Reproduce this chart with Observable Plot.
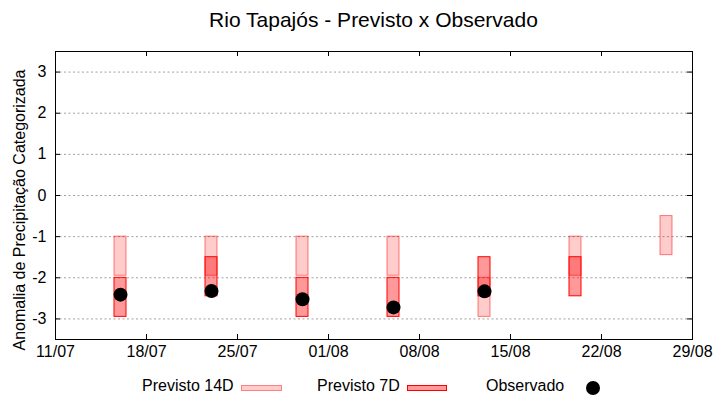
<!DOCTYPE html>
<html><head><meta charset="utf-8">
<script src="https://cdn.jsdelivr.net/npm/d3@7"></script>
<script src="https://cdn.jsdelivr.net/npm/@observablehq/plot@0.6"></script>
<style>
body{margin:0;background:#fff;font-family:"Liberation Sans",Arial,sans-serif;color:#000}
#wrap{position:relative;width:720px;height:400px;overflow:hidden}
#title{position:absolute;left:55px;width:637px;top:7px;text-align:center;font-size:21px;line-height:26px}
#chart{position:absolute;left:0;top:40px}
#ylabel{position:absolute;left:20px;top:210px;transform:translate(-50%,-50%) rotate(-90deg);white-space:nowrap;font-size:16px;line-height:18px}
.lt{position:absolute;font-size:16px;line-height:18px;top:377px;white-space:nowrap}
.sw{position:absolute;box-sizing:border-box;height:6px;top:385px}
.ld{position:absolute;width:14px;height:14px;border-radius:50%;background:#000;left:586px;top:381px}
</style></head><body>
<div id="wrap">
<div id="title">Rio Tapajós - Previsto x Observado</div>
<div id="chart"></div>
<div id="ylabel">Anomalia de Precipitação Categorizada</div>
<div class="lt" style="left:142px">Previsto 14D</div>
<div class="sw" style="left:241px;width:41px;border:1px solid #ff8080;background:#ffcccc"></div>
<div class="lt" style="left:317px">Previsto 7D</div>
<div class="sw" style="left:407px;width:40px;border:1px solid #ff0000;background:#ff9999"></div>
<div class="lt" style="left:486px">Observado</div>
<div class="ld"></div>
</div>
<script>
// Data
const dates = ["2023-07-16","2023-07-23","2023-07-30","2023-08-06","2023-08-13","2023-08-20","2023-08-27"];
const prev14Top    = [-1, -1, -1, -1, -2, -1, -0.5];
const prev14Bottom = [-1.95, -1.95, -1.95, -1.95, -2.95, -1.95, -1.45];
const prev7Top     = [-2, -1.5, -2, -2, -1.5, -1.5, null];
const prev7Bottom  = [-2.95, -2.45, -2.95, -2.95, -2.45, -2.45, null];
const observed     = [-2.41, -2.32, -2.52, -2.72, -2.33, null, null];
const xTickLabels  = ["11/07","18/07","25/07","01/08","08/08","15/08","22/08","29/08"];
const yTicks       = [-3, -2, -1, 0, 1, 2, 3];
const yDomain      = [-3.5, 3.5];

const parse = d3.utcParse("%Y-%m-%d");
const tickParse = d3.utcParse("%d/%m/%Y");
const xTicks = xTickLabels.map(s => tickParse(s + "/2023"));
const rows = dates.map((d, i) => ({
  date: parse(d),
  t14: prev14Top[i], b14: prev14Bottom[i],
  t7: prev7Top[i], b7: prev7Bottom[i],
  obs: observed[i]
}));
const r14 = rows.filter(d => d.t14 != null);
const r7 = rows.filter(d => d.t7 != null);
const ro = rows.filter(d => d.obs != null);
const left = d => d3.utcHour.offset(d.date, -12);
const right = d => d3.utcHour.offset(d.date, 12);

const W = 720, H = 330, mL = 55, mR = 28, mT = 11, mB = 31;
const innerH = H - mT - mB, innerW = W - mL - mR, tick = 5;

const chart = Plot.plot({
  width: W, height: H,
  marginLeft: mL, marginRight: mR, marginTop: mT, marginBottom: mB,
  style: {fontFamily: "Liberation Sans, Arial, sans-serif", fontSize: "16px", color: "#000", background: "#fff", overflow: "visible"},
  x: {type: "utc", domain: [xTicks[0], xTicks[xTicks.length - 1]]},
  y: {domain: yDomain},
  marks: [
    Plot.ruleY(yTicks, {stroke: "#a0a0a0", strokeDasharray: "2,2.5", strokeWidth: 1}),
    Plot.rect(r14, {x1: left, x2: right, y1: "b14", y2: "t14", insetLeft: 0.5, insetRight: 0.5,
      fill: "#ff0000", fillOpacity: 0.2, stroke: "#ff0000", strokeOpacity: 0.5, strokeWidth: 1}),
    Plot.rect(r7, {x1: left, x2: right, y1: "b7", y2: "t7", insetLeft: 0.5, insetRight: 0.5,
      fill: "#ff0000", fillOpacity: 0.4, stroke: "#ff0000", strokeWidth: 1}),
    Plot.dot(ro, {x: "date", y: "obs", r: 7, fill: "#000", stroke: null}),
    Plot.tickX(xTicks, {x: d => d, insetTop: innerH - tick, stroke: "#000"}),
    Plot.tickX(xTicks, {x: d => d, insetBottom: innerH - tick, stroke: "#000"}),
    Plot.tickY(yTicks, {y: d => d, insetLeft: innerW - tick, stroke: "#000"}),
    Plot.tickY(yTicks, {y: d => d, insetRight: innerW - tick, stroke: "#000"}),
    Plot.frame({stroke: "#000", strokeWidth: 1}),
    Plot.axisX({ticks: xTicks, tickFormat: d3.utcFormat("%d/%m"), tickSize: 0, tickPadding: 6, label: null, fontSize: 16}),
    Plot.axisY({ticks: yTicks, tickFormat: d => String(d), tickSize: 0, tickPadding: 9, label: null, fontSize: 16})
  ]
});
document.getElementById("chart").appendChild(chart);
</script>
</body></html>
